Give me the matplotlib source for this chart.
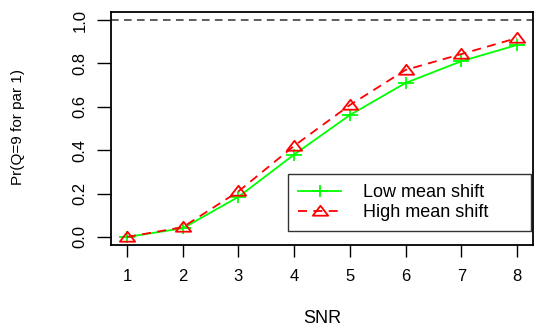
import matplotlib
matplotlib.use("Agg")
import matplotlib.pyplot as plt
from matplotlib.path import Path

# Detection probability vs. SNR for two mean-shift scenarios
snr = [1, 2, 3, 4, 5, 6, 7, 8]
low_shift = [0.00, 0.04, 0.185, 0.38, 0.562, 0.71, 0.81, 0.885]
high_shift = [0.00, 0.045, 0.21, 0.42, 0.608, 0.77, 0.843, 0.917]
yticks = [0.0, 0.2, 0.4, 0.6, 0.8, 1.0]

plt.rcParams["font.family"] = ["Liberation Sans", "DejaVu Sans"]

# slightly wide plus / open triangle symbols
plus_mk = Path([(-1, 0), (1, 0), (0, -0.8), (0, 0.8)],
               [Path.MOVETO, Path.LINETO, Path.MOVETO, Path.LINETO])
tri_mk = Path([(-1, -0.55), (1, -0.55), (0, 0.75), (-1, -0.55)],
              [Path.MOVETO, Path.LINETO, Path.LINETO, Path.CLOSEPOLY])

fig = plt.figure(figsize=(5.35, 3.31), dpi=100)
ax = fig.add_axes([111 / 535, 1 - 245 / 331, 422 / 535, 233 / 331])

ax.axhline(1.0, color="#333333", linestyle=(0, (5, 3.5)), linewidth=1.1)
ax.plot(snr, low_shift, color="#00ff00", linewidth=1.3, marker=plus_mk,
        markersize=11, markeredgewidth=1.3, markerfacecolor="none",
        label="Low mean shift")
ax.plot(snr, high_shift, color="#ff0000", linewidth=1.3, linestyle=(0, (5, 3.5)),
        marker=tri_mk, markersize=11, markerfacecolor="none",
        markeredgewidth=1.3, label="High mean shift")

ax.set_xlim(0.713, 8.287)
ax.set_ylim(-0.037, 1.037)
ax.set_xticks(snr)
ax.set_yticks(yticks)
ax.set_yticklabels([f"{v:.1f}" for v in yticks], rotation=90, va="center")
ax.tick_params(axis="y", length=10, width=1.0, labelsize=12, pad=7)
ax.tick_params(axis="x", length=8.5, width=1.0, labelsize=12, pad=9)
for s in ax.spines.values():
    s.set_linewidth(1.3)

fig.text(322 / 535, 1 - 323 / 331, "SNR", ha="center", va="baseline",
         fontsize=13)
fig.text(18 / 535, 1 - 127 / 331, "Pr(Q=9 for par 1)", rotation=90,
         ha="center", va="center", fontsize=11)

leg = ax.legend(loc="lower left", mode="expand",
                bbox_to_anchor=(288 / 535, 1 - 231 / 331, 243 / 535, 58 / 331),
                bbox_transform=fig.transFigure,
                fontsize=13, frameon=True, fancybox=False,
                handlelength=2.4, borderpad=0.55, labelspacing=0.15,
                handletextpad=1.2, borderaxespad=0.0)
leg.get_frame().set_edgecolor("black")
leg.get_frame().set_linewidth(1.0)

fig.savefig("out.png", dpi=100, facecolor="white")
